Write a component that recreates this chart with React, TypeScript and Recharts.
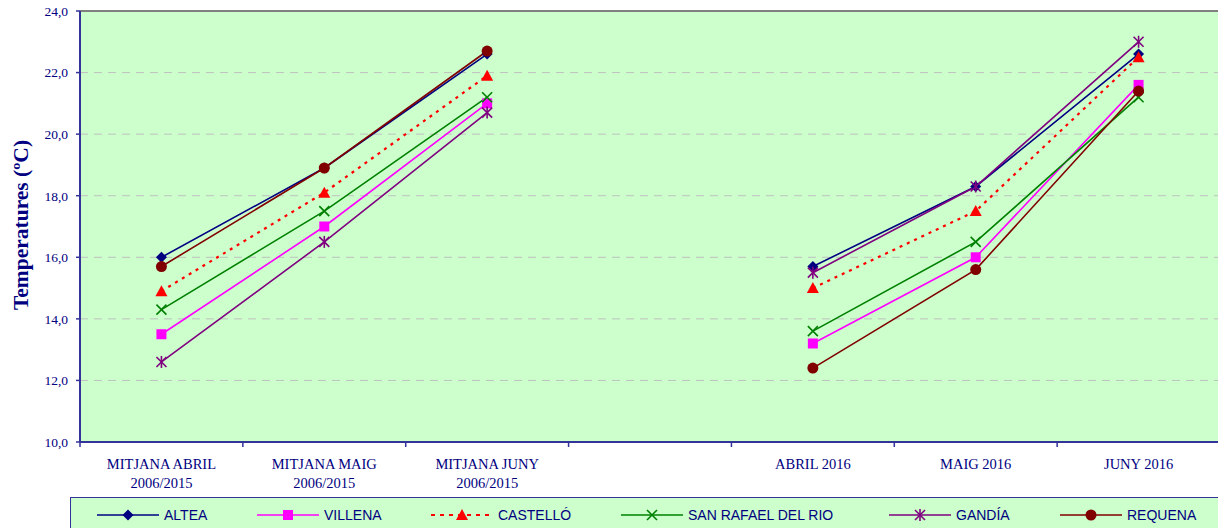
import React from 'react';
import {
  LineChart,
  Line,
  XAxis,
  YAxis,
  CartesianGrid,
  ReferenceLine,
} from 'recharts';

// x categories (index 3 is an empty gap between the two groups)
const categories: string[][] = [
  ['MITJANA ABRIL', '2006/2015'],
  ['MITJANA MAIG', '2006/2015'],
  ['MITJANA JUNY', '2006/2015'],
  [],
  ['ABRIL 2016'],
  ['MAIG 2016'],
  ['JUNY 2016'],
];

const altea = [16.0, 18.9, 22.6, null, 15.7, 18.3, 22.6];
const villena = [13.5, 17.0, 21.0, null, 13.2, 16.0, 21.6];
const castello = [14.9, 18.1, 21.9, null, 15.0, 17.5, 22.5];
const sanRafael = [14.3, 17.5, 21.2, null, 13.6, 16.5, 21.2];
const gandia = [12.6, 16.5, 20.7, null, 15.5, 18.3, 23.0];
const requena = [15.7, 18.9, 22.7, null, 12.4, 15.6, 21.4];

const yTicks = [10, 12, 14, 16, 18, 20, 22, 24];

const NAVY = '#000080';
const AXIS = '#333399';

type Shape = 'diamond' | 'square' | 'triangle' | 'x' | 'star' | 'circle';

const series: { key: string; name: string; color: string; shape: Shape; dash?: string; values: (number | null)[] }[] = [
  { key: 'altea', name: 'ALTEA', color: '#000080', shape: 'diamond', values: altea },
  { key: 'villena', name: 'VILLENA', color: '#ff00ff', shape: 'square', values: villena },
  { key: 'castello', name: 'CASTELLÓ', color: '#ff0000', shape: 'triangle', dash: '3 5', values: castello },
  { key: 'sanRafael', name: 'SAN RAFAEL DEL RIO', color: '#008000', shape: 'x', values: sanRafael },
  { key: 'gandia', name: 'GANDÍA', color: '#800080', shape: 'star', values: gandia },
  { key: 'requena', name: 'REQUENA', color: '#800000', shape: 'circle', values: requena },
];

// legend item positions
const legendLeft = [26, 186, 360, 550, 818, 989];

const data = categories.map((c, i) => {
  const row: any = { x: i + 0.5 };
  series.forEach((s) => (row[s.key] = s.values[i]));
  return row;
});

const xTicks: number[] = [];
for (let i = 0; i <= 7; i++) {
  xTicks.push(i);
  if (i < 7) xTicks.push(i + 0.5);
}

function Marker({ shape, color, cx, cy }: { shape: Shape; color: string; cx: number; cy: number }) {
  switch (shape) {
    case 'diamond':
      return <polygon points={`${cx},${cy - 5.5} ${cx + 5.5},${cy} ${cx},${cy + 5.5} ${cx - 5.5},${cy}`} fill={color} />;
    case 'square':
      return <rect x={cx - 5} y={cy - 5} width={10} height={10} fill={color} />;
    case 'triangle':
      return <polygon points={`${cx},${cy - 6} ${cx + 6},${cy + 5} ${cx - 6},${cy + 5}`} fill={color} />;
    case 'x':
      return (
        <g stroke={color} strokeWidth={1.6}>
          <line x1={cx - 5} y1={cy - 5} x2={cx + 5} y2={cy + 5} />
          <line x1={cx - 5} y1={cy + 5} x2={cx + 5} y2={cy - 5} />
        </g>
      );
    case 'star':
      return (
        <g stroke={color} strokeWidth={1.6}>
          <line x1={cx - 5} y1={cy - 5} x2={cx + 5} y2={cy + 5} />
          <line x1={cx - 5} y1={cy + 5} x2={cx + 5} y2={cy - 5} />
          <line x1={cx} y1={cy - 6} x2={cx} y2={cy + 6} />
        </g>
      );
    default:
      return <circle cx={cx} cy={cy} r={5.5} fill={color} />;
  }
}

const makeDot = (shape: Shape, color: string) => (props: any) => {
  const { cx, cy, value, index } = props;
  if (value == null || cx == null || cy == null) return <g key={index} />;
  return (
    <g key={index}>
      <Marker shape={shape} color={color} cx={cx} cy={cy} />
    </g>
  );
};

const XTick = (props: any) => {
  const { x, y, payload } = props;
  const v = payload.value as number;
  if (Number.isInteger(v)) {
    return <line x1={x} x2={x} y1={y} y2={y + 5} stroke={AXIS} strokeWidth={1.5} />;
  }
  const lines = categories[Math.floor(v)] || [];
  return (
    <g>
      {lines.map((l, i) => (
        <text
          key={i}
          x={x}
          y={y + 27 + i * 19}
          textAnchor="middle"
          fontSize={14.5}
          fontFamily="'Liberation Serif', 'Times New Roman', serif"
          fill={NAVY}
        >
          {l}
        </text>
      ))}
    </g>
  );
};

export default function App() {
  return (
    <div
      style={{
        position: 'absolute',
        left: 0,
        top: 0,
        width: 1218,
        height: 528,
        overflow: 'hidden',
        background: '#fff',
      }}
    >
      <LineChart width={1224} height={528} data={data} margin={{ top: 11, right: 4, bottom: 0, left: 8 }}>
        <CartesianGrid vertical={false} fill="#ccffcc" stroke="#c0c0c0" strokeDasharray="8 6" />
        <ReferenceLine y={24} stroke="#808080" strokeWidth={2} />
        <XAxis
          dataKey="x"
          type="number"
          domain={[0, 7]}
          ticks={xTicks}
          interval={0}
          tickLine={false}
          tickSize={0}
          tickMargin={0}
          height={86}
          axisLine={{ stroke: AXIS, strokeWidth: 2 }}
          tick={<XTick />}
        />
        <YAxis
          domain={[10, 24]}
          ticks={yTicks}
          interval={0}
          width={72}
          tickSize={4}
          tickMargin={8}
          tickFormatter={(v: number) => v.toFixed(1).replace('.', ',')}
          tick={{ fontSize: 13.5, fill: NAVY, fontFamily: "'Liberation Serif', 'Times New Roman', serif" }}
          tickLine={{ stroke: AXIS, strokeWidth: 1.5 }}
          axisLine={{ stroke: AXIS, strokeWidth: 2 }}
          label={{
            content: () => (
              <text
                x={21}
                y={225}
                transform="rotate(-90 21 225)"
                textAnchor="middle"
                dominantBaseline="central"
                fontSize={21.5}
                fontWeight="bold"
                fontFamily="'Liberation Serif', 'Times New Roman', serif"
                fill={NAVY}
              >
                Temperatures (ºC)
              </text>
            ),
          }}
        />
        {series.map((s) => (
          <Line
            key={s.key}
            dataKey={s.key}
            name={s.name}
            stroke={s.color}
            strokeWidth={s.dash ? 2.2 : 1.6}
            strokeDasharray={s.dash}
            dot={makeDot(s.shape, s.color)}
            activeDot={false}
            connectNulls={false}
            isAnimationActive={false}
          />
        ))}
      </LineChart>
      {/* legend box */}
      <div
        style={{
          position: 'absolute',
          left: 70,
          top: 497,
          width: 1160,
          height: 40,
          background: '#ccffcc',
          border: `1.5px solid ${AXIS}`,
          boxSizing: 'border-box',
        }}
      >
        {series.map((s, i) => (
          <div
            key={s.key}
            style={{
              position: 'absolute',
              left: legendLeft[i],
              top: 7,
              display: 'flex',
              alignItems: 'center',
              height: 20,
            }}
          >
            <svg width={64} height={14}>
              <line x1={0} y1={7} x2={62} y2={7} stroke={s.color} strokeWidth={s.dash ? 2.2 : 1.6} strokeDasharray={s.dash ? '4 5' : undefined} />
              <Marker shape={s.shape} color={s.color} cx={31} cy={7} />
            </svg>
            <span
              style={{
                fontFamily: "'Liberation Sans', Arial, sans-serif",
                fontSize: 14,
                color: NAVY,
                marginLeft: 3,
                whiteSpace: 'nowrap',
              }}
            >
              {s.name}
            </span>
          </div>
        ))}
      </div>
    </div>
  );
}
